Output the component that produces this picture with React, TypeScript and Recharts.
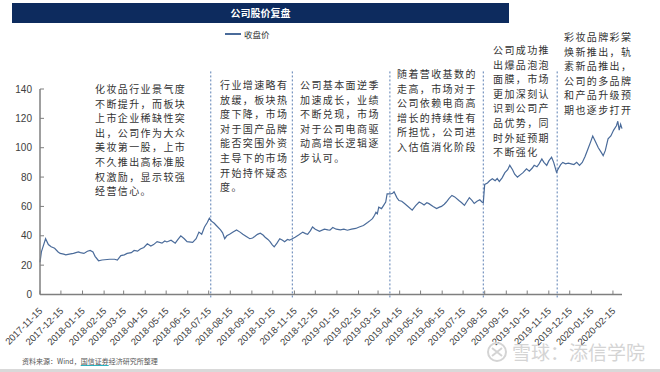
import React from 'react';
import {LineChart, Line, XAxis, YAxis, ReferenceLine} from 'recharts';

const title = '公司股价复盘';
const seriesName = '收盘价';
const source = '资料来源：Wind，';
const sourceLink = '国信证券';
const sourceTail = '经济研究所整理';
const watermark = '雪球：添信学院';

const dates = [
    '2017-11-15', '2017-11-17', '2017-11-21', '2017-11-23', '2017-11-27', '2017-12-01', '2017-12-06', '2017-12-11',
    '2017-12-14', '2017-12-19', '2017-12-22', '2017-12-27', '2018-01-02', '2018-01-09', '2018-01-12', '2018-01-17',
    '2018-01-22', '2018-01-26', '2018-01-30', '2018-02-02', '2018-02-07', '2018-02-12', '2018-02-23', '2018-03-02',
    '2018-03-06', '2018-03-11', '2018-03-16', '2018-03-20', '2018-03-26', '2018-03-30', '2018-04-04', '2018-04-08',
    '2018-04-13', '2018-04-18', '2018-04-23', '2018-04-27', '2018-05-02', '2018-05-09', '2018-05-13', '2018-05-16',
    '2018-05-22', '2018-05-28', '2018-06-01', '2018-06-05', '2018-06-10', '2018-06-14', '2018-06-22', '2018-06-27',
    '2018-07-01', '2018-07-05', '2018-07-09', '2018-07-13', '2018-07-16', '2018-07-19', '2018-07-23', '2018-07-26',
    '2018-08-01', '2018-08-04', '2018-08-07', '2018-08-10', '2018-08-14', '2018-08-19', '2018-08-24', '2018-08-29',
    '2018-09-02', '2018-09-07', '2018-09-12', '2018-09-16', '2018-09-19', '2018-09-23', '2018-09-27', '2018-10-01',
    '2018-10-04', '2018-10-08', '2018-10-11', '2018-10-14', '2018-10-17', '2018-10-21', '2018-10-25', '2018-10-29',
    '2018-11-01', '2018-11-05', '2018-11-08', '2018-11-12', '2018-11-16', '2018-11-21', '2018-11-27', '2018-12-01',
    '2018-12-04', '2018-12-08', '2018-12-11', '2018-12-15', '2018-12-21', '2018-12-28', '2019-01-02', '2019-01-05',
    '2019-01-09', '2019-01-14', '2019-01-20', '2019-01-25', '2019-01-30', '2019-02-05', '2019-02-11', '2019-02-16',
    '2019-02-22', '2019-02-28', '2019-03-04', '2019-03-07', '2019-03-10', '2019-03-12', '2019-03-14', '2019-03-16',
    '2019-03-20', '2019-03-23', '2019-03-26', '2019-03-28', '2019-04-02', '2019-04-05', '2019-04-07', '2019-04-11',
    '2019-04-14', '2019-04-18', '2019-04-22', '2019-04-27', '2019-05-03', '2019-05-08', '2019-05-13', '2019-05-17',
    '2019-05-20', '2019-05-24', '2019-05-27', '2019-06-02', '2019-06-07', '2019-06-11', '2019-06-14', '2019-06-18',
    '2019-06-21', '2019-06-25', '2019-06-29', '2019-07-03', '2019-07-09', '2019-07-13', '2019-07-17', '2019-07-20',
    '2019-07-24', '2019-07-28', '2019-07-31', '2019-08-04', '2019-08-08', '2019-08-11', '2019-08-13', '2019-08-15',
    '2019-08-19', '2019-08-22', '2019-08-26', '2019-08-30', '2019-09-02', '2019-09-05', '2019-09-09', '2019-09-13',
    '2019-09-17', '2019-09-20', '2019-09-24', '2019-09-27', '2019-10-01', '2019-10-05', '2019-10-09', '2019-10-14',
    '2019-10-18', '2019-10-22', '2019-10-25', '2019-10-29', '2019-11-01', '2019-11-05', '2019-11-08', '2019-11-12',
    '2019-11-15', '2019-11-19', '2019-11-22', '2019-11-26', '2019-11-29', '2019-12-02', '2019-12-05', '2019-12-09',
    '2019-12-13', '2019-12-17', '2019-12-21', '2019-12-25', '2019-12-29', '2020-01-02', '2020-01-06', '2020-01-10',
    '2020-01-14', '2020-01-17', '2020-01-21', '2020-01-25', '2020-01-29', '2020-02-01', '2020-02-04', '2020-02-08',
    '2020-02-12', '2020-02-16', '2020-02-20', '2020-02-22', '2020-02-24', '2020-02-26', '2020-02-28',
];

const closes = [
    22, 29, 35, 38, 34, 32.5, 31.5, 29,
    28, 27.5, 27, 27.5, 28, 29, 28.5, 28,
    29.5, 30, 29, 26, 23, 23.5, 24, 24,
    23.5, 26.5, 27, 28, 28.5, 30, 29.5, 31,
    32, 34.5, 33, 34, 36, 35, 36.5, 35.8,
    37, 35, 37.5, 40, 38, 36, 35.5, 38,
    42.5, 41, 46, 49, 52, 50, 48.5, 47,
    44, 42, 38, 40, 41, 42.5, 44, 42.5,
    41, 39.5, 38, 38.5, 39.5, 41, 41.7, 40.5,
    39, 37.5, 36, 34, 32.5, 35, 38, 37,
    36, 37.5, 37, 38, 39, 40.5, 42.5, 41.5,
    41, 43.5, 46, 44.5, 43, 44.5, 44, 43.8,
    45.6, 44.5, 44, 44.5, 43.8, 44.5, 45, 46,
    47, 49, 50.5, 51.7, 54, 56, 55, 59.5,
    58.5, 60.7, 63, 68.5, 68.5, 69, 70, 66,
    64, 63.5, 62, 60, 57.5, 60.5, 63, 62,
    61, 62.5, 61.9, 60, 58.5, 59.5, 60, 61.5,
    63, 65.5, 67.5, 66.5, 64, 62.5, 60.7, 63,
    66, 64, 62, 63.5, 64.5, 63, 62.5, 75,
    76, 77.5, 78.8, 77.5, 79, 77, 79.5, 83,
    85, 88, 85, 82, 80, 81.5, 83, 85.6,
    84, 86, 88, 87, 89, 92.4, 90, 88,
    91, 93.5, 90, 83.3, 86, 88.5, 90, 89,
    89.5, 89, 88.5, 90, 88, 90, 94, 99,
    104, 108, 104, 100, 97, 94.6, 98, 106,
    108, 112, 115, 118, 112, 116, 113,
];

const monthTicks = [
    '2017-11-15', '2017-12-15', '2018-01-15', '2018-02-15', '2018-03-15', '2018-04-15', '2018-05-15',
    '2018-06-15', '2018-07-15', '2018-08-15', '2018-09-15', '2018-10-15', '2018-11-15', '2018-12-15',
    '2019-01-15', '2019-02-15', '2019-03-15', '2019-04-15', '2019-05-15', '2019-06-15', '2019-07-15',
    '2019-08-15', '2019-09-15', '2019-10-15', '2019-11-15', '2019-12-15', '2020-01-15', '2020-02-15',
];
const yTicks = [0, 20, 40, 60, 80, 100, 120, 140];
const eventDates = ['2018-07-18', '2018-11-12', '2019-04-01', '2019-08-13', '2019-11-27'];

const notes = [
    '化妆品行业景气度\n不断提升，而板块\n上市企业稀缺性突\n出，公司作为大众\n美妆第一股，上市\n不久推出高标准股\n权激励，显示较强\n经营信心。',
    '行业增速略有\n放缓，板块热\n度下降，市场\n对于国产品牌\n能否突围外资\n主导下的市场\n开始持怀疑态\n度。',
    '公司基本面逆季\n加速成长，业绩\n不断兑现，市场\n对于公司电商驱\n动高增长逻辑逐\n步认可。',
    '随着营收基数的\n走高，市场对于\n公司依赖电商高\n增长的持续性有\n所担忧，公司进\n入估值消化阶段',
    '公司成功推\n出爆品泡泡\n面膜，市场\n更加深刻认\n识到公司产\n品优势，同\n时外延预期\n不断强化',
    '彩妆品牌彩棠\n焕新推出，轨\n素新品推出，\n公司的多品牌\n和产品升级预\n期也逐步打开',
];
const notePos = [
    {left: 95, top: 82},
    {left: 220, top: 78},
    {left: 300, top: 78},
    {left: 397, top: 67},
    {left: 493, top: 43},
    {left: 564, top: 30},
];

const toTime = (d: string) => Date.parse(d);
const data = dates.map((d, i) => ({t: toTime(d), close: closes[i]}));
const tickLabel = new Map(monthTicks.map(m => [toTime(m), m]));

const LINE = '#4a6b9a';
const CJK = '"Noto Sans CJK SC", sans-serif';

function DateTick({x, y, payload}: any) {
    const label = tickLabel.get(payload.value) ?? '';
    const px = x + 3;
    const py = y + 11;
    return (
        <text x={px} y={py} transform={`rotate(-45, ${px}, ${py})`} textAnchor="end"
              fontSize={9.5} fill="#404040" fontFamily="'Liberation Sans', Arial">
            {label}
        </text>
    );
}

export default function App() {
    return (
        <div style={{position: 'absolute', left: 0, top: 0, width: 660, height: 372, background: '#fff', overflow: 'hidden'}}>
            <div style={{position: 'absolute', left: 0, top: 0}}>
                <LineChart width={660} height={372} data={data} margin={{top: 89, right: 38, bottom: 17.5, left: 0}}>
                    <XAxis dataKey="t" type="number" scale="linear"
                           domain={[toTime('2017-11-15'), toTime('2020-02-28')]}
                           ticks={monthTicks.map(toTime)} interval={0}
                           height={60} tickSize={-4} tickMargin={10}
                           axisLine={{stroke: '#7f7f7f', strokeWidth: 1.5}}
                           tickLine={{stroke: '#7f7f7f'}}
                           tick={<DateTick/>}/>
                    <YAxis domain={[0, 140]} ticks={yTicks} width={40} tickSize={-4} tickMargin={12}
                           axisLine={{stroke: '#7f7f7f', strokeWidth: 1.5}}
                           tickLine={{stroke: '#7f7f7f'}}
                           tick={{fontSize: 10, fill: '#404040', fontFamily: "'Liberation Sans', Arial"}}/>
                    {eventDates.map(d => (
                        <ReferenceLine key={d} ifOverflow="visible"
                                       segment={[{x: toTime(d), y: -2}, {x: toTime(d), y: 152}]}
                                       stroke="#5b7fb3" strokeWidth={1} strokeDasharray="2 2"/>
                    ))}
                    <Line type="linear" dataKey="close" name={seriesName} stroke={LINE} strokeWidth={1.2}
                          dot={false} isAnimationActive={false}/>
                </LineChart>
            </div>

            <div style={{position: 'absolute', left: 12, top: 3, width: 497, height: 20, background: '#0d2b5e',
                color: '#fff', fontFamily: CJK, fontWeight: 700, fontSize: 10, lineHeight: '20px', textAlign: 'center'}}>
                {title}
            </div>

            <div style={{position: 'absolute', left: 225, top: 28, display: 'flex', alignItems: 'center', fontFamily: CJK,
                fontSize: 8.5, color: '#333'}}>
                <span style={{display: 'inline-block', width: 16, height: 1.5, background: LINE, marginRight: 3}}/>
                <span>{seriesName}</span>
            </div>

            {notes.map((n, i) => (
                <div key={i} style={{position: 'absolute', left: notePos[i].left, top: notePos[i].top, whiteSpace: 'pre',
                    fontFamily: CJK, fontSize: 10, letterSpacing: 1.4, lineHeight: '14.6px', color: '#333'}}>
                    {n}
                </div>
            ))}

            <div style={{position: 'absolute', left: 22, top: 356, fontFamily: CJK, fontSize: 7, color: '#555', whiteSpace: 'pre'}}>
                {source}
                <span style={{textDecoration: 'underline', textDecorationColor: '#2bb3c0'}}>{sourceLink}</span>
                {sourceTail}
            </div>

            <svg style={{position: 'absolute', left: 486, top: 341}} width={24} height={22}>
                <circle cx={11} cy={11} r={9} fill="none" stroke="#d4d4d4" strokeWidth={2}/>
                <path d="M6 7 L16 15 M16 7 L6 15" stroke="#d4d4d4" strokeWidth={2}/>
            </svg>
            <div style={{position: 'absolute', left: 512, top: 340, fontFamily: CJK, fontSize: 19, color: '#d4d4d4',
                whiteSpace: 'pre', lineHeight: '24px'}}>
                {watermark}
            </div>

            <div style={{position: 'absolute', left: 0, top: 369, width: 660, height: 3, background: '#d9d9d9'}}/>
        </div>
    );
}
